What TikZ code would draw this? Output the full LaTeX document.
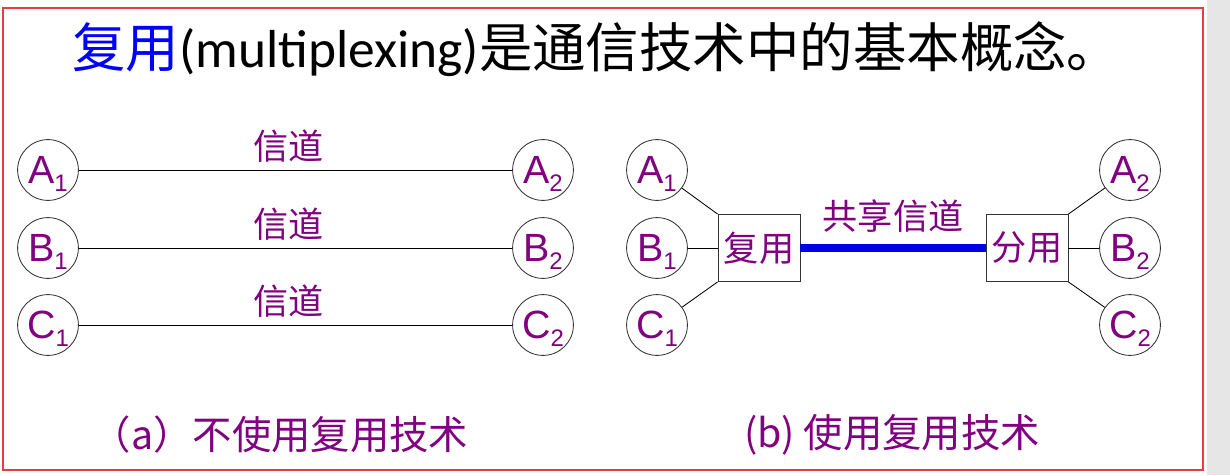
\documentclass[tikz,border=0pt]{standalone}
\usepackage{fontspec}
\setmainfont{Liberation Sans}
\newfontfamily\cjk{Noto Sans CJK SC}
\newfontfamily\calib{Carlito}
\usepackage{tikz}
\usetikzlibrary{positioning}
\definecolor{lblpurple}{RGB}{128,0,128}
\definecolor{framered}{RGB}{230,60,66}
\definecolor{sidegray}{RGB}{230,230,230}
\definecolor{barblue}{RGB}{0,0,230}
\newcommand{\stn}[2]{#1\raisebox{-6pt}[0pt][0pt]{\fontsize{17}{17}\selectfont #2}}

\begin{document}
\begin{tikzpicture}[x=0.025cm,y=-0.025cm,
  endpt/.style={draw=black!80,line width=0.6pt,circle,minimum size=1.52cm,inner sep=0pt,text=lblpurple,font=\fontsize{28}{28}\selectfont},
  muxbox/.style={draw=black!80,line width=0.6pt,fill=white,minimum width=2.05cm,minimum height=1.675cm,inner sep=0pt,text=lblpurple,font=\cjk\fontsize{25}{25}\selectfont},
  chlbl/.style={text=lblpurple,inner sep=0pt,font=\cjk\fontsize{25}{25}\selectfont},
  caplbl/.style={text=lblpurple,inner sep=0pt,font=\cjk\fontsize{28}{28}\selectfont},
  wire/.style={draw=black,line width=0.6pt}]
\useasboundingbox (0,0) rectangle (1230,475);
\fill[sidegray] (1207,0) rectangle (1230,475);
\draw[framered,line width=2.1pt] (3,8) rectangle (1203,470);

% title
\node[anchor=base west,inner sep=0pt,font=\fontsize{38}{38}\selectfont] (title) at (72,67)
  {{\cjk\color{blue}复用}{\calib (multiplexing)}{\cjk 是通信技术中的基本概念。}};

% (a) without multiplexing
\node[endpt] (a_A1) at (48,170) {\stn{A}{1}};
\node[endpt] (a_B1) at (48,248) {\stn{B}{1}};
\node[endpt] (a_C1) at (48,325) {\stn{C}{1}};
\node[endpt] (a_A2) at (543,170) {\stn{A}{2}};
\node[endpt] (a_B2) at (543,248) {\stn{B}{2}};
\node[endpt] (a_C2) at (543,325) {\stn{C}{2}};
\draw[wire] (a_A1) -- node[chlbl,above=5pt,xshift=-5pt] (ch_a) {信道} (a_A2);
\draw[wire] (a_B1) -- node[chlbl,above=5pt,xshift=-5pt] (ch_b) {信道} (a_B2);
\draw[wire] (a_C1) -- node[chlbl,above=5pt,xshift=-5pt] (ch_c) {信道} (a_C2);
\node[caplbl] (cap_a) at (280,435) {（a）不使用复用技术};

% (b) with multiplexing
\node[endpt] (b_A1) at (657,170) {\stn{A}{1}};
\node[endpt] (b_B1) at (657,248) {\stn{B}{1}};
\node[endpt] (b_C1) at (657,325) {\stn{C}{1}};
\node[muxbox] (mux) at (759,248) {复用};
\node[muxbox] (demux) at (1027,248) {分用};
\node[endpt] (b_A2) at (1130,170) {\stn{A}{2}};
\node[endpt] (b_B2) at (1130,248) {\stn{B}{2}};
\node[endpt] (b_C2) at (1130,325) {\stn{C}{2}};
\draw[wire] (b_A1) -- (mux.north west);
\draw[wire] (b_B1) -- (mux);
\draw[wire] (b_C1) -- (mux.south west);
\draw[wire] (demux.north east) -- (b_A2);
\draw[wire] (demux) -- (b_B2);
\draw[wire] (demux.south east) -- (b_C2);
\draw[barblue,line width=5.7pt] (mux) -- node[chlbl,above=8pt] (share) {共享信道} (demux);
\node[caplbl] (cap_b) at (892,435) {(b) 使用复用技术};
\end{tikzpicture}
\end{document}
